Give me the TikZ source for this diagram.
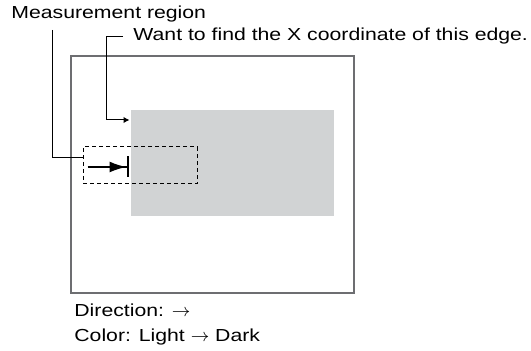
\documentclass[tikz,border=0pt]{standalone}
\usepackage{fontspec}
\setmainfont{Liberation Sans}[FakeStretch=1.22]
\usepackage{tikz}
\usetikzlibrary{arrows.meta, positioning}
\definecolor{framegray}{HTML}{6D6E71}
\definecolor{objgray}{HTML}{D1D3D4}

\begin{document}
\begin{tikzpicture}[
    x=0.5pt, y=-0.5pt,
    font=\fontsize{8.7}{10}\selectfont,
    caption/.style={anchor=base west, inner sep=0pt},
    frame/.style={draw=framegray, line width=0.85pt, minimum width=141.8pt,
        minimum height=118.65pt, inner sep=0pt},
    object/.style={fill=objgray, minimum width=101.5pt, minimum height=53pt, inner sep=0pt},
    region/.style={draw=black, line width=0.5pt, dash pattern=on 2pt off 1.5pt,
        minimum width=57pt, minimum height=18.5pt, inner sep=0pt},
    leader/.style={draw=black, line width=0.5pt},
    pointer/.style={leader, -{Latex[length=3pt, width=3.2pt]}},
    scandir/.style={line width=1pt, -{Latex[length=8.5pt, width=5.5pt]Bar[width=10.5pt]}}
]
\useasboundingbox (0,0) rectangle (531,351);

% Camera field of view and object
\node[frame] (screen) at (212.5,174.7) {};
\node[object] (obj) at (232.5,163) {};
\node[region] (mbox) at (140,165.5) {};

% Scan direction inside the region
\draw[scandir] (mbox.west) ++(5,1.5) -- ++(41,0);

% Captions
\node[caption] (mlabel) at (11,19) {Measurement region};
\node[caption] (want) at (133,40.7) {Want to find the X coordinate of this edge.};
\node[caption] (dir) at (74,317) {Direction: $\rightarrow$};
\node[caption] (col) at (74,341.5) {Color: Light $\rightarrow$ Dark};

% Leader ends
\coordinate (mtop) at (52.3,30);
\coordinate (mhit) at (83,158);
\coordinate (ehit) at (129.5,120);

% Leaders
\draw[leader] (mtop) |- (mhit);
\draw[pointer] (want.base west) ++(-10,-3.7) -- ++(-16.3,0) |- (ehit);

\end{tikzpicture}
\end{document}
